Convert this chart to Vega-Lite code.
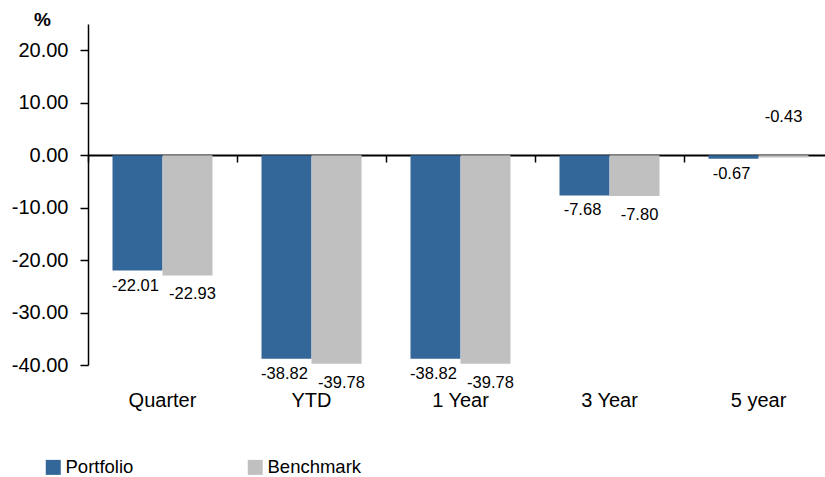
{
  "$schema": "https://vega.github.io/schema/vega-lite/v6.json",
  "width": 745,
  "height": 341,
  "autosize": "none",
  "padding": {"left": 88, "top": 24, "right": 0, "bottom": 112},
  "background": "white",
  "config": {
    "font": "Liberation Sans",
    "view": {"stroke": null},
    "locale": {"number": {"decimal": ".", "thousands": ",", "grouping": [3], "currency": ["$", ""], "minus": "-"}}
  },
  "data": {
    "values": [
      {"period": "Quarter", "series": "Portfolio", "value": -22.01},
      {"period": "Quarter", "series": "Benchmark", "value": -22.93},
      {"period": "YTD", "series": "Portfolio", "value": -38.82},
      {"period": "YTD", "series": "Benchmark", "value": -39.78},
      {"period": "1 Year", "series": "Portfolio", "value": -38.82},
      {"period": "1 Year", "series": "Benchmark", "value": -39.78},
      {"period": "3 Year", "series": "Portfolio", "value": -7.68},
      {"period": "3 Year", "series": "Benchmark", "value": -7.80},
      {"period": "5 year", "series": "Portfolio", "value": -0.67},
      {"period": "5 year", "series": "Benchmark", "value": -0.43}
    ]
  },
  "encoding": {
    "x": {
      "field": "period",
      "type": "nominal",
      "sort": ["Quarter", "YTD", "1 Year", "3 Year", "5 year"],
      "scale": {"paddingInner": 0, "paddingOuter": 0},
      "axis": null
    },
    "xOffset": {
      "field": "series",
      "type": "nominal",
      "sort": ["Portfolio", "Benchmark"],
      "scale": {"paddingInner": 0, "paddingOuter": 0.49}
    },
    "y": {
      "field": "value",
      "type": "quantitative",
      "scale": {"domain": [-40, 25], "nice": false, "zero": false},
      "axis": {
        "values": [-40, -30, -20, -10, 0, 10, 20],
        "format": ".2f",
        "grid": false,
        "domainColor": "black",
        "domainWidth": 1.5,
        "tickColor": "black",
        "tickWidth": 1.5,
        "tickSize": 8,
        "labelPadding": 12,
        "labelFontSize": 20,
        "labelColor": "black",
        "title": "%",
        "titleAngle": 0,
        "titleFontSize": 19,
        "titleFontWeight": "bold",
        "titleColor": "black",
        "titleAlign": "center",
        "titleBaseline": "alphabetic",
        "titleX": -46,
        "titleY": 1
      }
    }
  },
  "layer": [
    {
      "mark": {"type": "bar"},
      "encoding": {
        "x": {
          "field": "period",
          "type": "nominal",
          "sort": ["Quarter", "YTD", "1 Year", "3 Year", "5 year"],
          "axis": {
            "title": null,
            "domain": false,
            "ticks": false,
            "labelAngle": 0,
            "labelPadding": 25,
            "labelFontSize": 20,
            "labelColor": "black"
          }
        },
        "color": {
          "field": "series",
          "type": "nominal",
          "sort": ["Portfolio", "Benchmark"],
          "scale": {"domain": ["Portfolio", "Benchmark"], "range": ["#336699", "#c0c0c0"]},
          "legend": {
            "title": null,
            "orient": "none",
            "direction": "horizontal",
            "legendX": -44,
            "legendY": 434,
            "padding": 0,
            "symbolType": "square",
            "symbolSize": 225,
            "symbolStrokeWidth": 0,
            "symbolOpacity": 1,
            "labelFontSize": 18.5,
            "labelColor": "black",
            "labelOffset": 3,
            "columnPadding": 112
          }
        }
      }
    },
    {
      "mark": {"type": "text", "baseline": "middle", "align": "center", "dx": -2, "dy": 15, "fontSize": 16.5, "color": "black"},
      "transform": [{"filter": "datum.value < -0.5 && datum.series == 'Portfolio'"}],
      "encoding": {
        "text": {"field": "value", "type": "quantitative", "format": ".2f"}
      }
    },
    {
      "mark": {"type": "text", "baseline": "middle", "align": "center", "dx": 5, "dy": 19, "fontSize": 16.5, "color": "black"},
      "transform": [{"filter": "datum.value < -0.5 && datum.series == 'Benchmark'"}],
      "encoding": {
        "text": {"field": "value", "type": "quantitative", "format": ".2f"}
      }
    },
    {
      "mark": {"type": "text", "baseline": "middle", "align": "center", "dy": -40, "fontSize": 16.5, "color": "black"},
      "transform": [{"filter": "datum.value >= -0.5"}],
      "encoding": {
        "text": {"field": "value", "type": "quantitative", "format": ".2f"}
      }
    },
    {
      "mark": {"type": "tick", "opacity": 0},
      "encoding": {
        "x": {
          "field": "period",
          "type": "nominal",
          "sort": ["Quarter", "YTD", "1 Year", "3 Year", "5 year"],
          "axis": {
            "title": null,
            "orient": "bottom",
            "offset": -210,
            "labels": false,
            "bandPosition": 0,
            "domainColor": "black",
            "domainWidth": 2,
            "tickColor": "black",
            "tickWidth": 1.5,
            "tickSize": 7
          }
        }
      }
    }
  ],
  "resolve": {"axis": {"x": "independent"}}
}
